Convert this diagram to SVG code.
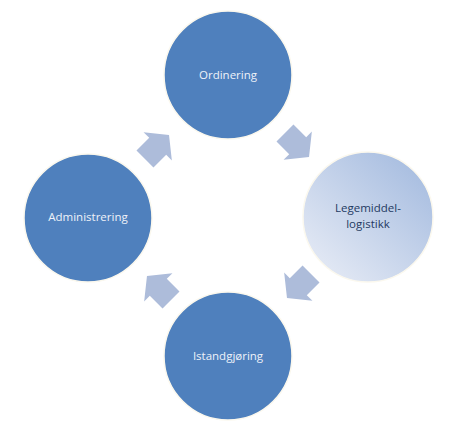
<svg xmlns="http://www.w3.org/2000/svg" width="457" height="442" viewBox="0 0 457 442">
<defs>
<style>
.c{fill:#4f80bd;stroke:#fbf8ee;stroke-width:1.5}
.t{font-family:"Open Sans","Liberation Sans",sans-serif;font-size:11.5px;text-anchor:middle;fill:#eef2f9}
.td{font-family:"Open Sans","Liberation Sans",sans-serif;font-size:11.5px;text-anchor:middle;fill:#1f3a62}
.a{fill:#adbcda}
</style>
<linearGradient id="g" x1="0.15" y1="0.9" x2="0.9" y2="0.1">
<stop offset="0" stop-color="#e2e8f4"/>
<stop offset="1" stop-color="#a7bde0"/>
</linearGradient>
<polygon id="arr" points="-17,-12 1,-12 1,-20 17,0 1,20 1,12 -17,12"/>
</defs>
<rect width="457" height="442" fill="#ffffff"/>
<g id="connectors">
<use href="#arr" class="a" transform="translate(157,147) rotate(-45)"/>
<use href="#arr" class="a" transform="translate(297,145) rotate(45)"/>
<use href="#arr" class="a" transform="translate(299,286) rotate(135)"/>
<use href="#arr" class="a" transform="translate(159,288) rotate(-135)"/>
</g>
<g id="ordinering">
<circle class="c" cx="228" cy="75" r="64"/>
<text class="t" x="228" y="79">Ordinering</text>
</g>
<g id="legemiddellogistikk">
<circle cx="368" cy="217" r="65" fill="url(#g)" stroke="#fbf8ee" stroke-width="1.5"/>
<text class="td" x="368" y="212">Legemiddel-</text>
<text class="td" x="368" y="228">logistikk</text>
</g>
<g id="administrering">
<circle class="c" cx="88" cy="218" r="64"/>
<text class="t" x="88" y="221">Administrering</text>
</g>
<g id="istandgjoring">
<circle class="c" cx="228" cy="356" r="64"/>
<text class="t" x="228" y="360">Istandgjøring</text>
</g>
</svg>
